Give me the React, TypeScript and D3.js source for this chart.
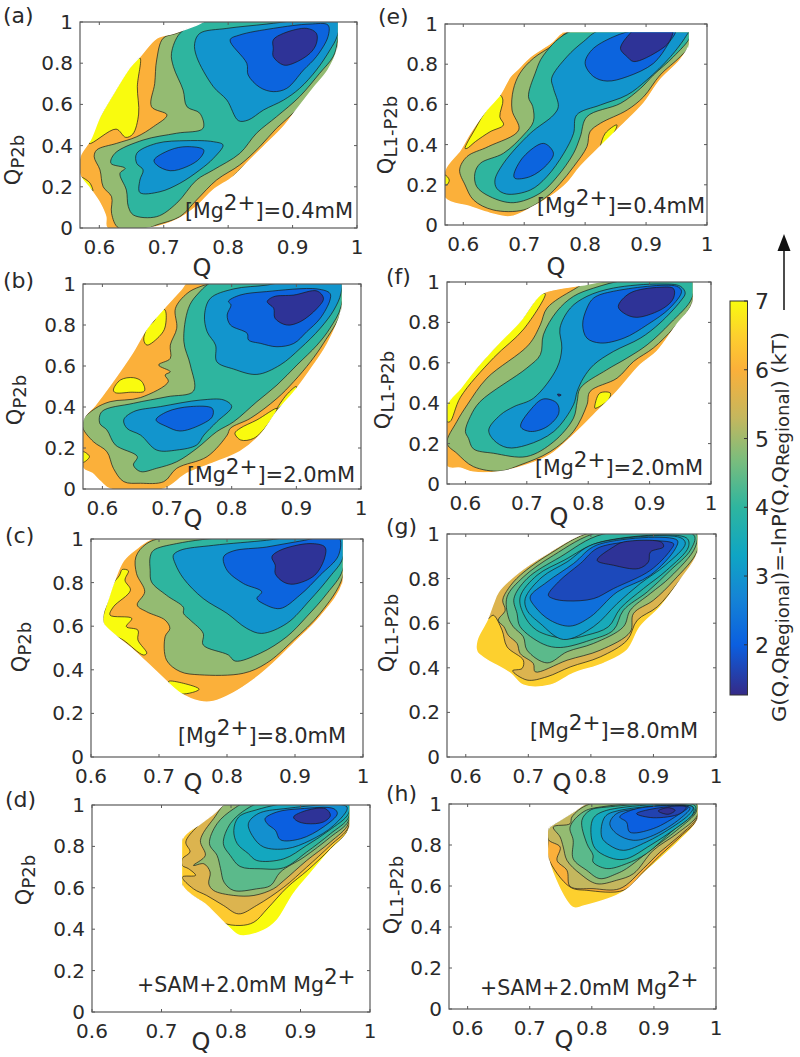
import React from "react";
import * as d3 from "d3";

type Pt = [number, number];
type Band = [number, Pt[]];

const colorLevels = [1.27, 2, 2.7, 3.3, 4, 4.7, 5.3, 6, 6.5, 7];
const colorValues = ["#352a87", "#0b5fe0", "#1585d5", "#0fa5c4", "#2eb59f", "#7cbd7c", "#c4b75e", "#fbb03a", "#fdd02e", "#f9fb0e"];
const colorTicks = [2, 3, 4, 5, 6, 7];
const xTicksWide = [0.6, 0.7, 0.8, 0.9, 1];
const yTicks = [0, 0.2, 0.4, 0.6, 0.8, 1];

const hullA: Pt[] = [[.612,0],[.61,.055],[.601,.12],[.587,.185],[.57,.257],[.57,.346],[.586,.427],[.601,.54],[.622,.654],[.648,.783],[.663,.832],[.689,.921],[.715,.945],[.751,.985],[.777,1.02],[.969,1.02],[.969,.864],[.955,.767],[.932,.678],[.906,.573],[.886,.492],[.855,.395],[.834,.33],[.808,.249],[.777,.184],[.751,.104],[.72,.039],[.679,0]];
const bandsA: Band[] = [
  [7,[[.663,.825],[.659,.686],[.661,.553],[.652,.456],[.641,.44],[.626,.48],[.584,.41],[.601,.54],[.622,.654],[.648,.783]]],
  [7,[[.57,.25],[.59,.18],[.585,.22]]],
  [7,[[.808,.25],[.836,.33],[.84,.33],[.815,.262]]],
  [4.9,[[.63,0],[.619,.071],[.619,.152],[.606,.2],[.601,.282],[.592,.346],[.596,.379],[.627,.411],[.658,.443],[.684,.492],[.705,.549],[.681,.589],[.686,.702],[.689,.816],[.699,.921],[.72,.945],[.756,.99],[.777,1.02],[.969,1.02],[.969,.864],[.955,.759],[.932,.67],[.906,.573],[.875,.484],[.849,.395],[.818,.306],[.782,.233],[.751,.136],[.725,.055],[.689,.015],[.676,0]]],
  [4,[[.761,.484],[.756,.557],[.736,.589],[.73,.67],[.715,.783],[.712,.848],[.725,.945],[.751,.99],[.787,1.02],[.969,1.02],[.969,.896],[.963,.832],[.942,.751],[.911,.638],[.875,.54],[.844,.46],[.818,.362],[.777,.282],[.751,.233],[.72,.12],[.689,.055],[.653,.063],[.645,.104],[.642,.184],[.632,.265],[.64,.29],[.618,.314],[.624,.362],[.668,.427],[.72,.46]]],
  [3,[[.831,.524],[.816,.521],[.798,.621],[.777,.686],[.751,.832],[.748,.896],[.756,.945],[.798,.969],[.86,.99],[.942,1.02],[.973,1.02],[.969,.929],[.958,.864],[.937,.767],[.911,.678],[.886,.621],[.855,.573]]],
  [3,[[.658,.362],[.689,.411],[.736,.424],[.777,.419],[.792,.403],[.777,.338],[.756,.282],[.725,.217],[.694,.176],[.663,.172],[.663,.233],[.668,.282],[.658,.314]]],
  [2.1,[[.849,.683],[.831,.743],[.829,.799],[.803,.913],[.818,.937],[.87,.969],[.927,.99],[.955,.985],[.955,.929],[.937,.832],[.917,.767],[.891,.678],[.87,.662]]],
  [2.1,[[.685,.33],[.71,.379],[.736,.395],[.762,.379],[.756,.338],[.736,.298],[.71,.278],[.689,.306]]],
  [1.4,[[.87,.913],[.886,.945],[.922,.969],[.937,.945],[.937,.896],[.927,.848],[.901,.799],[.886,.791],[.87,.832],[.87,.872]]],
];

const hullB: Pt[] = [[.612,0],[.597,.036],[.584,.076],[.57,.101],[.57,.337],[.589,.41],[.612,.507],[.646,.662],[.669,.784],[.7,.898],[.721,.971],[.736,1.02],[.969,1.02],[.969,.865],[.947,.702],[.927,.605],[.901,.491],[.87,.377],[.844,.263],[.813,.182],[.777,.133],[.731,.076],[.695,0]];
const bandsB: Band[] = [
  [7,[[.697,.873],[.69,.881],[.68,.82],[.669,.784],[.664,.727],[.669,.702],[.69,.751],[.697,.79]]],
  [7,[[.617,.483],[.628,.532],[.648,.543],[.661,.524],[.665,.478],[.643,.472],[.62,.47]]],
  [7,[[.57,.182],[.58,.158],[.57,.13]]],
  [7,[[.805,.272],[.813,.296],[.839,.337],[.87,.393],[.855,.312],[.834,.247],[.814,.239]]],
  [7,[[.87,.39],[.885,.46],[.9,.5],[.9,.48]]],
  [4.9,[[.57,.296],[.586,.231],[.607,.182],[.617,.101],[.633,.036],[.659,.028],[.695,.036],[.715,.101],[.762,.158],[.793,.263],[.798,.296],[.829,.345],[.87,.442],[.896,.524],[.922,.621],[.942,.711],[.969,.865],[.969,1.02],[.798,1.02],[.751,.987],[.731,.954],[.713,.881],[.715,.784],[.705,.702],[.705,.637],[.687,.605],[.705,.572],[.697,.556],[.702,.524],[.659,.446],[.612,.426],[.589,.393],[.57,.337]]],
  [4,[[.741,.478],[.736,.605],[.726,.719],[.733,.881],[.746,.946],[.777,1.02],[.969,1.02],[.969,.889],[.952,.784],[.932,.702],[.901,.605],[.87,.507],[.839,.426],[.803,.328],[.777,.28],[.746,.198],[.715,.133],[.684,.101],[.659,.085],[.648,.117],[.654,.158],[.62,.215],[.607,.288],[.596,.32],[.599,.377],[.648,.418],[.7,.45]]],
  [3,[[.777,.621],[.775,.702],[.762,.767],[.758,.849],[.767,.93],[.803,.976],[.855,.995],[.896,1.02],[.969,1.02],[.969,.954],[.958,.873],[.937,.784],[.906,.686],[.875,.605],[.839,.559],[.803,.585]]],
  [3,[[.633,.337],[.648,.377],[.69,.402],[.752,.434],[.788,.434],[.8,.402],[.777,.328],[.757,.263],[.746,.215],[.715,.19],[.684,.19],[.659,.263],[.638,.296]]],
  [2.1,[[.826,.727],[.824,.759],[.798,.8],[.793,.849],[.799,.898],[.795,.915],[.813,.946],[.854,.963],[.932,.976],[.952,.954],[.952,.922],[.937,.833],[.916,.767],[.896,.71],[.87,.694],[.845,.71]]],
  [2.1,[[.683,.337],[.7,.377],[.736,.402],[.77,.393],[.77,.353],[.751,.312],[.72,.283],[.7,.304]]],
  [1.4,[[.855,.914],[.865,.938],[.896,.946],[.932,.966],[.942,.93],[.932,.881],[.906,.816],[.885,.8],[.867,.833],[.865,.881]]],
];

const hullC: Pt[] = [[.618,.613],[.618,.659],[.624,.712],[.633,.796],[.648,.902],[.667,.956],[.697,1.01],[.97,1.01],[.97,.796],[.937,.643],[.898,.521],[.868,.43],[.839,.354],[.809,.293],[.78,.255],[.76,.255],[.731,.293],[.701,.377],[.662,.491],[.635,.559]];
const bandsC: Band[] = [
  [7,[[.618,.613],[.624,.712],[.633,.796],[.642,.834],[.646,.86],[.655,.854],[.65,.811],[.658,.765],[.633,.689],[.628,.651],[.66,.636],[.652,.598],[.669,.582],[.669,.537],[.682,.476],[.677,.468],[.648,.535],[.635,.559]]],
  [7,[[.714,.346],[.736,.338],[.759,.311],[.745,.293],[.728,.293]]],
  [4.9,[[.668,.697],[.679,.758],[.667,.841],[.666,.918],[.682,.979],[.716,1.01],[.97,1.01],[.97,.826],[.937,.659],[.898,.537],[.858,.43],[.824,.384],[.76,.377],[.731,.392],[.711,.445],[.709,.552],[.716,.59],[.709,.628],[.682,.666]]],
  [4,[[.687,.918],[.692,.948],[.726,.979],[.809,1.01],[.97,1.01],[.97,.857],[.947,.75],[.917,.643],[.888,.552],[.849,.476],[.812,.44],[.802,.468],[.765,.514],[.765,.567],[.746,.628],[.736,.659],[.736,.686],[.711,.742],[.689,.803],[.687,.857]]],
  [3,[[.721,.925],[.731,.948],[.78,.971],[.858,.994],[.898,1.01],[.97,1.01],[.97,.91],[.951,.826],[.922,.72],[.888,.613],[.851,.567],[.829,.59],[.8,.659],[.765,.727],[.736,.819],[.724,.886]]],
  [2.1,[[.795,.918],[.809,.945],[.858,.963],[.907,.99],[.964,1.01],[.964,.925],[.937,.834],[.907,.742],[.878,.681],[.853,.704],[.844,.727],[.851,.758],[.824,.796],[.8,.857]]],
  [1.4,[[.866,.918],[.878,.948],[.922,.979],[.944,.963],[.944,.918],[.929,.834],[.898,.793],[.883,.803],[.871,.841],[.871,.88]]],
];

const hullD: Pt[] = [[.73,.837],[.756,.91],[.775,.958],[.799,1.02],[.969,1.02],[.969,.877],[.943,.781],[.914,.668],[.89,.571],[.866,.442],[.847,.394],[.813,.369],[.794,.418],[.765,.515],[.73,.611]];
const bandsD: Band[] = [
  [6.4,[[.73,.837],[.756,.91],[.775,.958],[.799,1.02],[.969,1.02],[.969,.885],[.943,.789],[.91,.684],[.881,.603],[.852,.498],[.833,.434],[.813,.418],[.787,.434],[.761,.523],[.73,.611]]],
  [5.6,[[.735,.821],[.751,.894],[.775,.958],[.799,1.02],[.969,1.02],[.969,.894],[.943,.805],[.909,.7],[.876,.603],[.837,.515],[.811,.474],[.789,.515],[.765,.563],[.746,.595],[.73,.652],[.749,.66],[.739,.692],[.73,.708],[.73,.74],[.741,.773]]],
  [4.9,[[.746,.708],[.763,.756],[.756,.829],[.775,.934],[.799,1.02],[.969,1.02],[.969,.91],[.943,.821],[.909,.732],[.876,.635],[.861,.595],[.833,.563],[.804,.563],[.775,.587],[.768,.619],[.77,.676],[.761,.716]]],
  [4.4,[[.785,.692],[.78,.756],[.769,.813],[.78,.91],[.804,.982],[.828,1.02],[.969,1.02],[.969,.923],[.943,.845],[.905,.748],[.871,.676],[.857,.611],[.837,.595],[.804,.587],[.79,.627]]],
  [4,[[.789,.813],[.799,.91],[.823,.982],[.852,1.02],[.969,1.02],[.969,.939],[.943,.861],[.909,.773],[.876,.697],[.842,.692],[.813,.703],[.799,.756]]],
  [3.4,[[.804,.877],[.811,.942],[.837,.977],[.9,1.02],[.969,1.02],[.969,.958],[.941,.877],[.909,.805],[.876,.74],[.837,.732],[.825,.765],[.809,.813]]],
  [2.9,[[.825,.91],[.839,.958],[.876,.982],[.967,.99],[.948,.902],[.914,.829],[.88,.789],[.847,.797],[.832,.845]]],
  [2,[[.849,.934],[.866,.966],[.9,.982],[.948,.982],[.953,.958],[.933,.894],[.9,.837],[.871,.832],[.864,.877],[.852,.91]]],
  [1.4,[[.89,.942],[.909,.974],[.936,.982],[.943,.95],[.933,.918],[.909,.91],[.895,.923]]],
];

const hullE: Pt[] = [[.57,.274],[.595,.373],[.611,.456],[.638,.572],[.66,.647],[.677,.738],[.688,.771],[.71,.837],[.743,.904],[.77,.97],[.972,.97],[.972,.904],[.956,.821],[.923,.721],[.896,.605],[.858,.489],[.825,.39],[.792,.29],[.77,.207],[.743,.141],[.715,.091],[.677,.041],[.644,.058],[.611,.091],[.57,.133]];
const bandsE: Band[] = [
  [7,[[.603,.381],[.62,.481],[.638,.572],[.66,.647],[.665,.622],[.66,.539],[.666,.498],[.644,.464],[.62,.415],[.606,.381]]],
  [7,[[.825,.39],[.833,.456],[.852,.498],[.847,.456],[.833,.406],[.825,.373]]],
  [7,[[.57,.249],[.577,.224],[.573,.199],[.57,.199]]],
  [4.9,[[.594,.274],[.606,.34],[.641,.39],[.691,.473],[.68,.572],[.682,.672],[.693,.755],[.715,.829],[.748,.896],[.778,.97],[.972,.97],[.972,.896],[.956,.837],[.923,.746],[.896,.638],[.869,.572],[.825,.506],[.808,.464],[.803,.39],[.781,.29],[.759,.207],[.737,.141],[.699,.075],[.649,.075],[.617,.124],[.603,.199]]],
  [4,[[.619,.257],[.628,.307],[.666,.357],[.699,.448],[.715,.514],[.714,.589],[.707,.638],[.718,.755],[.732,.846],[.781,.97],[.972,.97],[.972,.934],[.945,.837],[.912,.746],[.891,.68],[.858,.605],[.803,.539],[.792,.439],[.781,.357],[.754,.24],[.726,.158],[.682,.111],[.644,.141],[.622,.191]]],
  [3,[[.652,.224],[.666,.307],[.71,.456],[.748,.547],[.756,.589],[.748,.68],[.745,.73],[.77,.837],[.797,.912],[.825,.97],[.97,.97],[.965,.937],[.94,.837],[.901,.721],[.869,.647],[.825,.597],[.786,.547],[.781,.456],[.765,.357],[.737,.24],[.71,.174],[.671,.154],[.655,.182]]],
  [2.1,[[.683,.249],[.699,.34],[.732,.406],[.748,.357],[.737,.299],[.71,.241],[.685,.232]]],
  [2.1,[[.8,.804],[.811,.871],[.847,.937],[.885,.97],[.948,.97],[.937,.904],[.912,.804],[.869,.738],[.836,.716],[.814,.738]]],
  [1.4,[[.858,.879],[.874,.954],[.882,.975],[.943,.975],[.938,.912],[.923,.871],[.88,.813],[.869,.837]]],
];

const hullF: Pt[] = [[.57,.392],[.592,.474],[.613,.557],[.657,.706],[.689,.805],[.722,.937],[.744,.962],[.787,.983],[.841,1.01],[.969,1.01],[.969,.888],[.944,.788],[.912,.656],[.885,.59],[.847,.458],[.809,.342],[.776,.243],[.738,.144],[.7,.094],[.657,.061],[.613,.058],[.592,.078],[.57,.086]];
const bandsF: Band[] = [
  [7,[[.57,.392],[.613,.557],[.657,.706],[.689,.805],[.722,.937],[.73,.942],[.695,.767],[.646,.625],[.592,.43],[.575,.309],[.57,.309]]],
  [7,[[.811,.392],[.819,.45],[.836,.45],[.833,.417],[.811,.375]]],
  [7,[[.887,.582],[.895,.615],[.9,.605],[.888,.58]]],
  [4.9,[[.57,.202],[.586,.309],[.603,.392],[.635,.524],[.703,.689],[.722,.788],[.733,.871],[.776,.962],[.809,1.01],[.969,1.01],[.969,.896],[.939,.772],[.906,.673],[.874,.607],[.847,.524],[.803,.458],[.798,.392],[.776,.26],[.738,.16],[.689,.094],[.657,.064],[.613,.086],[.586,.152]]],
  [4,[[.6,.26],[.608,.334],[.624,.408],[.7,.574],[.722,.64],[.727,.739],[.749,.855],[.776,.929],[.809,.97],[.863,1.01],[.969,1.01],[.969,.921],[.934,.797],[.896,.689],[.863,.623],[.83,.565],[.787,.474],[.782,.408],[.776,.326],[.744,.21],[.7,.136],[.646,.152],[.613,.174],[.605,.226]]],
  [3,[[.638,.268],[.657,.342],[.679,.383],[.711,.425],[.749,.574],[.757,.673],[.754,.772],[.771,.871],[.798,.929],[.841,.97],[.917,.99],[.95,.979],[.958,.945],[.95,.904],[.917,.797],[.885,.722],[.841,.656],[.809,.59],[.792,.524],[.782,.458],[.776,.392],[.744,.26],[.7,.193],[.668,.18],[.646,.218]]],
  [2.1,[[.69,.284],[.706,.367],[.727,.421],[.749,.4],[.752,.35],[.733,.284],[.706,.26]]],
  [2.1,[[.791,.788],[.798,.871],[.809,.921],[.841,.954],[.944,.979],[.952,.954],[.933,.871],[.896,.788],[.858,.722],[.82,.698],[.798,.722]]],
  [1.4,[[.849,.879],[.868,.945],[.917,.974],[.939,.967],[.939,.921],[.923,.871],[.879,.825],[.858,.846]]],
  [1.4,[[.75,.445],[.756,.441],[.752,.435]]],
];

const hullG: Pt[] = [[.618,.524],[.618,.472],[.671,.375],[.692,.322],[.735,.322],[.772,.375],[.82,.419],[.858,.479],[.879,.584],[.911,.673],[.943,.793],[.97,.912],[.97,1.01],[.799,1.01],[.73,.912],[.682,.822],[.652,.74],[.644,.688],[.634,.613]];
const bandsG: Band[] = [
  [5.6,[[.636,.621],[.649,.733],[.682,.822],[.73,.912],[.799,1.01],[.97,1.01],[.97,.904],[.938,.778],[.906,.673],[.874,.613],[.858,.524],[.815,.449],[.767,.404],[.73,.36],[.698,.345],[.675,.387],[.69,.397],[.692,.434],[.666,.494],[.658,.569],[.644,.636]]],
  [4.9,[[.652,.613],[.663,.658],[.659,.703],[.668,.755],[.687,.815],[.735,.912],[.804,1.01],[.97,1.01],[.97,.924],[.933,.793],[.9,.703],[.868,.643],[.863,.561],[.815,.479],[.762,.434],[.711,.382],[.708,.419],[.687,.464],[.682,.509],[.668,.546],[.661,.584]]],
  [4.4,[[.668,.628],[.666,.718],[.692,.807],[.74,.904],[.815,1.01],[.967,1.01],[.967,.942],[.927,.807],[.895,.733],[.863,.658],[.852,.584],[.804,.509],[.762,.472],[.73,.422],[.698,.479],[.692,.539],[.676,.584]]],
  [3.95,[[.677,.71],[.698,.8],[.751,.897],[.82,1.0],[.965,.994],[.959,.927],[.927,.837],[.89,.74],[.852,.658],[.836,.569],[.799,.524],[.751,.491],[.724,.506],[.687,.584],[.682,.643]]],
  [3.5,[[.687,.718],[.714,.815],[.757,.882],[.815,.964],[.953,.982],[.956,.942],[.921,.837],[.884,.755],[.847,.666],[.828,.584],[.793,.546],[.761,.531],[.713,.569],[.692,.643]]],
  [3.1,[[.695,.71],[.722,.807],[.762,.875],[.804,.954],[.943,.984],[.951,.957],[.919,.86],[.879,.778],[.842,.688],[.804,.584],[.756,.527],[.719,.599],[.698,.658]]],
  [2.3,[[.703,.718],[.73,.785],[.772,.867],[.81,.951],[.938,.972],[.935,.934],[.895,.815],[.842,.74],[.799,.628],[.767,.587],[.735,.613],[.711,.673]]],
  [1.7,[[.732,.725],[.748,.785],[.783,.867],[.815,.942],[.932,.957],[.927,.927],[.895,.837],[.836,.755],[.804,.71],[.762,.7],[.74,.71]]],
  [1.4,[[.81,.882],[.836,.942],[.852,.964],[.913,.963],[.916,.942],[.895,.919],[.892,.875],[.876,.845],[.836,.86]]],
];

const hullH: Pt[] = [[.73,.88],[.73,.733],[.77,.494],[.786,.501],[.851,.571],[.883,.66],[.91,.733],[.942,.823],[.97,.92],[.97,1.01],[.797,1.01],[.77,.961],[.744,.912]];
const bandsH: Band[] = [
  [6,[[.73,.826],[.73,.738],[.765,.595],[.792,.579],[.851,.579],[.883,.668],[.91,.75],[.942,.839],[.97,.928],[.97,1.01],[.797,1.01],[.77,.961],[.744,.912],[.73,.88]]],
  [5.3,[[.73,.826],[.749,.79],[.744,.725],[.76,.676],[.765,.598],[.802,.587],[.845,.587],[.883,.685],[.91,.766],[.942,.847],[.97,.937],[.97,1.01],[.797,1.01],[.77,.961],[.744,.912],[.73,.88]]],
  [4.9,[[.738,.888],[.765,.904],[.768,.937],[.797,1.0],[.97,1.01],[.97,.945],[.937,.855],[.899,.774],[.867,.66],[.84,.628],[.808,.611],[.781,.66],[.76,.725],[.754,.79],[.749,.839]]],
  [4.4,[[.765,.888],[.786,.961],[.813,.985],[.968,1.0],[.968,.961],[.937,.872],[.894,.774],[.856,.685],[.84,.66],[.813,.636],[.792,.676],[.77,.733],[.77,.823]]],
  [4,[[.784,.92],[.797,.969],[.824,.985],[.966,.993],[.966,.961],[.931,.872],[.888,.758],[.856,.709],[.824,.685],[.802,.717],[.802,.75],[.792,.807]]],
  [3.4,[[.8,.823],[.802,.928],[.824,.969],[.963,.985],[.963,.953],[.931,.872],[.894,.798],[.856,.733],[.835,.733],[.808,.774]]],
  [2.9,[[.816,.839],[.821,.937],[.845,.969],[.963,.985],[.958,.953],[.926,.88],[.888,.815],[.851,.774],[.829,.798]]],
  [2.5,[[.829,.904],[.84,.953],[.883,.977],[.958,.982],[.942,.928],[.899,.847],[.867,.823],[.84,.855]]],
  [2,[[.845,.937],[.872,.977],[.955,.985],[.942,.953],[.899,.88],[.861,.863],[.856,.912]]],
  [1.6,[[.872,.953],[.91,.982],[.952,.985],[.942,.953],[.899,.933]]],
  [1.35,[[.907,.966],[.923,.982],[.934,.969],[.923,.95]]],
];

const color = d3.scaleLinear<string>().domain(colorLevels).range(colorValues).interpolate(d3.interpolateRgb);

type P = {
  name: string; L: number; R: number; T: number; B: number; xMin: number; clipY: number; clipQMin: number;
  hull: Pt[]; hullLevel: number; bands: Band[]; sub: string; ylx: number; yly: number; qx: number; qy: number;
  ax: number; ay: number; pre: string; post: string; lx: number; ly: number;
};

const panels: P[] = [
  { name: "(a)", L: 80, R: 357, T: 22, B: 228, xMin: .57, clipY: 1, clipQMin: .57, hull: hullA, hullLevel: 6, bands: bandsA, sub: "P2b", ylx: 20, yly: 160, qx: 202, qy: 276, ax: 185, ay: 218, pre: "[Mg", post: "]=0.4mM", lx: 3, ly: 23 },
  { name: "(b)", L: 83, R: 361, T: 284, B: 489, xMin: .57, clipY: 1, clipQMin: .57, hull: hullB, hullLevel: 6, bands: bandsB, sub: "P2b", ylx: 22, yly: 400, qx: 193, qy: 527, ax: 187, ay: 482, pre: "[Mg", post: "]=2.0mM", lx: 3, ly: 288 },
  { name: "(c)", L: 91, R: 363, T: 539, B: 757, xMin: .6, clipY: 1, clipQMin: .6, hull: hullC, hullLevel: 6, bands: bandsC, sub: "P2b", ylx: 27, yly: 647, qx: 193, qy: 791, ax: 178, ay: 743, pre: "[Mg", post: "]=8.0mM", lx: 5, ly: 543 },
  { name: "(d)", L: 92, R: 370, T: 805, B: 1012, xMin: .6, clipY: 1, clipQMin: .73, hull: hullD, hullLevel: 7, bands: bandsD, sub: "P2b", ylx: 31, yly: 880, qx: 201, qy: 1050, ax: 137, ay: 992, pre: "+SAM+2.0mM Mg", post: "", lx: 5, ly: 807 },
  { name: "(e)", L: 445, R: 707, T: 24, B: 225, xMin: .57, clipY: .958, clipQMin: .57, hull: hullE, hullLevel: 6, bands: bandsE, sub: "L1-P2b", ylx: 393, yly: 135, qx: 556, qy: 275, ax: 537, ay: 213, pre: "[Mg", post: "]=0.4mM", lx: 378, ly: 24 },
  { name: "(f)", L: 447, R: 711, T: 282, B: 484, xMin: .57, clipY: 1, clipQMin: .57, hull: hullF, hullLevel: 6, bands: bandsF, sub: "L1-P2b", ylx: 390, yly: 390, qx: 559, qy: 525, ax: 535, ay: 475, pre: "[Mg", post: "]=2.0mM", lx: 386, ly: 284 },
  { name: "(g)", L: 447, R: 716, T: 534, B: 757, xMin: .57, clipY: 1, clipQMin: .57, hull: hullG, hullLevel: 6.5, bands: bandsG, sub: "L1-P2b", ylx: 394, yly: 633, qx: 562, qy: 791, ax: 530, ay: 738, pre: "[Mg", post: "]=8.0mM", lx: 386, ly: 534 },
  { name: "(h)", L: 449, R: 716, T: 804, B: 1009, xMin: .57, clipY: 1, clipQMin: .73, hull: hullH, hullLevel: 6.5, bands: bandsH, sub: "L1-P2b", ylx: 399, yly: 895, qx: 564, qy: 1048, ax: 480, ay: 995, pre: "+SAM+2.0mM Mg", post: "", lx: 386, ly: 801 },
];

const FONT = "'DejaVu Sans', sans-serif";
const INK = "#2a2a2a";
const FRAME = "#5a5a5a";

function Panel({ p }: { p: P }) {
  const x = d3.scaleLinear().domain([p.xMin, 1]).range([p.L, p.R]);
  const y = d3.scaleLinear().domain([0, 1]).range([p.B, p.T]);
  const path = d3.line<Pt>().x(d => x(d[0])).y(d => y(d[1])).curve(d3.curveCatmullRomClosed.alpha(0.5));
  const id = "clip" + p.name.replace(/\W/g, "");
  const qMax = 0.97;
  const hullPath = path(p.hull) || "";
  return (
    <g fontFamily={FONT} fill={INK}>
      <clipPath id={id}>
        <rect x={x(p.clipQMin)} y={y(p.clipY)} width={x(qMax) - x(p.clipQMin)} height={y(0) - y(p.clipY)} />
      </clipPath>
      <clipPath id={id + "h"}>
        <path d={hullPath} />
      </clipPath>
      <g clipPath={`url(#${id})`}>
        <g clipPath={`url(#${id}h)`}>
          <path d={hullPath} fill={color(p.hullLevel)} stroke="none" />
          {p.bands.map((b, i) => (
            <path key={i} d={path(b[1]) || ""} fill={color(b[0])} stroke="#1a1a1a" strokeWidth={0.7} strokeLinejoin="round" />
          ))}
        </g>
        <path d={hullPath} fill="none" stroke="#fff" strokeWidth={1.4} />
      </g>
      <rect x={p.L} y={p.T} width={p.R - p.L} height={p.B - p.T} fill="none" stroke={FRAME} strokeWidth={1.2} />
      {xTicksWide.map(t => (
        <g key={t}>
          <line x1={x(t)} x2={x(t)} y1={p.B} y2={p.B - 3} stroke={FRAME} />
          <line x1={x(t)} x2={x(t)} y1={p.T} y2={p.T + 3} stroke={FRAME} />
          <text x={x(t)} y={p.B + 26} fontSize={20} textAnchor="middle">{t}</text>
        </g>
      ))}
      {yTicks.map(t => (
        <g key={t}>
          <line x1={p.L} x2={p.L + 3} y1={y(t)} y2={y(t)} stroke={FRAME} />
          <line x1={p.R} x2={p.R - 3} y1={y(t)} y2={y(t)} stroke={FRAME} />
          <text x={p.L - 7} y={y(t) + 7} fontSize={20} textAnchor="end">{t}</text>
        </g>
      ))}
      <text x={p.lx} y={p.ly} fontSize={22}>{p.name}</text>
      <text x={p.qx} y={p.qy} fontSize={24} textAnchor="middle">Q</text>
      <text transform={`translate(${p.ylx},${p.yly}) rotate(-90)`} fontSize={21} textAnchor="middle">
        Q<tspan fontSize={18} dy={4}>{p.sub}</tspan>
      </text>
      <text x={p.ax} y={p.ay} fontSize={20.5}>
        {p.pre}<tspan fontSize={21.5} dy={-8}>2+</tspan>{p.post ? <tspan fontSize={21} dy={8}>{p.post}</tspan> : null}
      </text>
    </g>
  );
}

function ColorBar() {
  const cb = d3.scaleLinear().domain([1.27, 7]).range([695, 301]);
  return (
    <g fontFamily={FONT} fill={INK}>
      <defs>
        <linearGradient id="parula" x1="0" x2="0" y1="1" y2="0">
          {colorLevels.map((v, i) => (
            <stop key={v} offset={(v - 1.27) / (7 - 1.27)} stopColor={colorValues[i]} />
          ))}
        </linearGradient>
      </defs>
      <rect x={730} y={cb(7)} width={17.5} height={cb(1.27) - cb(7)} fill="url(#parula)" stroke="#333" strokeWidth={1} />
      {colorTicks.map(t => (
        <g key={t}>
          <line x1={744} x2={747.5} y1={cb(t)} y2={cb(t)} stroke="#333" />
          <text x={755} y={cb(t) + 8} fontSize={22}>{t}</text>
        </g>
      ))}
      <text transform="translate(786,722) rotate(-90)" fontSize={20} textLength={390} lengthAdjust="spacingAndGlyphs">
        G(Q,Q<tspan fontSize={17} dy={3}>Regional</tspan><tspan dy={-3}>)=-lnP(Q,Q</tspan><tspan fontSize={17} dy={3}>Regional</tspan><tspan dy={-3}>) (kT)</tspan>
      </text>
      <line x1={784} x2={784} y1={310} y2={248} stroke="#111" strokeWidth={1.5} />
      <path d={d3.line()([[784, 234], [790.5, 251], [777.5, 251]])! + "Z"} fill="#111" />
    </g>
  );
}

export default function App() {
  return (
    <svg width={800} height={1057} viewBox="0 0 800 1057" style={{ position: "absolute", left: 0, top: 0, background: "#fff" }}>
      {panels.map(p => <Panel key={p.name} p={p} />)}
      <ColorBar />
    </svg>
  );
}
